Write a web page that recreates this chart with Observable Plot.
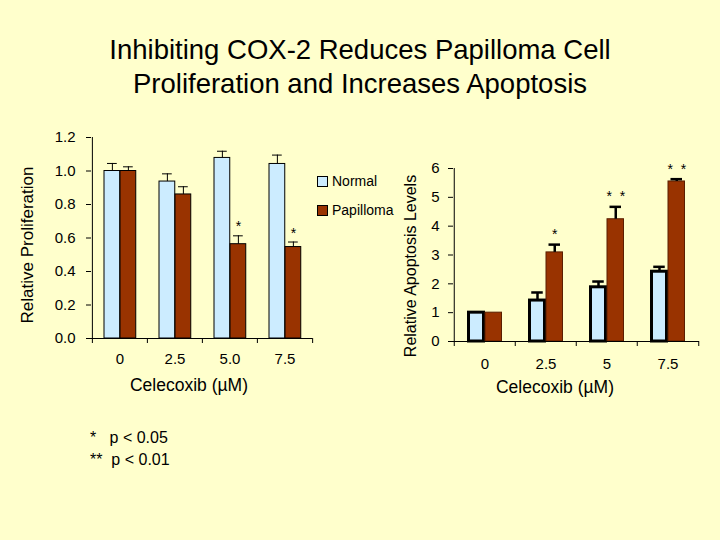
<!DOCTYPE html>
<html><head><meta charset="utf-8">
<script src="https://cdn.jsdelivr.net/npm/d3@7"></script>
<script src="https://cdn.jsdelivr.net/npm/@observablehq/plot@0.6"></script>
<style>
html,body{margin:0;padding:0;background:#FFFFCC;}
#page{position:relative;width:720px;height:540px;background:#FFFFCC;font-family:"Liberation Sans",Arial,sans-serif;color:#000;overflow:hidden}
.abs{position:absolute;white-space:pre}
.rot{transform:rotate(-90deg);text-align:center}
</style></head><body><div id="page"></div>
<script>
// ---- data ----
const titleLines = ["Inhibiting COX-2 Reduces Papilloma Cell", "Proliferation and Increases Apoptosis"];
const seriesNames = ["Normal", "Papilloma"];
const seriesColors = ["#CCECFF", "#993300"];

const propCats = ["0", "2.5", "5.0", "7.5"];
const propNormal = [1.0, 0.937, 1.078, 1.042];
const propNormalErr = [0.045, 0.046, 0.04, 0.053];
const propPap = [1.0, 0.86, 0.563, 0.546];
const propPapErr = [0.025, 0.046, 0.05, 0.03];
const propSig = ["", "", "*", "*"];
const propTicks = [0, 0.2, 0.4, 0.6, 0.8, 1.0, 1.2];

const apoCats = ["0", "2.5", "5", "7.5"];
const apoNormal = [1.0, 1.42, 1.88, 2.42];
const apoNormalErr = [0, 0.28, 0.2, 0.17];
const apoPap = [1.0, 3.09, 4.24, 5.55];
const apoPapErr = [0, 0.27, 0.43, 0.08];
const apoSig = ["", "*", "*  *", "*  *"];
const apoTicks = [0, 1, 2, 3, 4, 5, 6];

const xTitle = "Celecoxib (\u00B5M)";
const propYTitle = "Relative Proliferation";
const apoYTitle = "Relative Apoptosis Levels";
const footnotes = ["*   p < 0.05", "**  p < 0.01"];

// ---- helpers ----
const page = document.getElementById("page");
function addText(txt, css, cls = "abs") {
  const d = document.createElement("div");
  d.className = cls;
  d.textContent = txt;
  Object.assign(d.style, css);
  page.appendChild(d);
  return d;
}

function groupedChart(o) {
  const bw = (o.width - o.ml - o.mr) / o.cats.length;
  const nrm = o.cats.map((c, i) => ({cat: c, v: o.normal[i], e: o.normalErr[i]}));
  const pap = o.cats.map((c, i) => ({cat: c, v: o.pap[i], e: o.papErr[i], s: o.sig[i]}));
  const n0 = o.gap, n1 = n0 + o.barW, p0 = n1 + o.midGap, p1 = p0 + o.barW2;
  const nc = (n0 + n1) / 2, pc = (p0 + p1) / 2;
  const last = o.cats[o.cats.length - 1];
  const yMax = o.ticks[o.ticks.length - 1];
  const errMarks = (data, c) => [
    Plot.ruleX(data.filter(d => d.e > 0), {x: "cat", y1: "v", y2: d => d.v + d.e, dx: c - bw / 2, stroke: "#000", strokeWidth: o.errW}),
    Plot.tickY(data.filter(d => d.e > 0), {x: "cat", y: d => d.v + d.e, insetLeft: c - o.capW / 2, insetRight: bw - c - o.capW / 2, stroke: "#000", strokeWidth: o.errW})
  ];
  return Plot.plot({
    width: o.width, height: o.height,
    marginLeft: o.ml, marginRight: o.mr, marginTop: o.mt, marginBottom: o.mb,
    style: {background: "transparent", fontFamily: '"Liberation Sans", Arial, sans-serif', fontSize: "15px", color: "#000", overflow: "visible"},
    x: {type: "band", domain: o.cats, padding: 0, axis: null},
    y: {domain: [0, yMax], axis: null},
    marks: [
      Plot.barY(nrm, {x: "cat", y: "v", fill: seriesColors[0], stroke: "#000", strokeWidth: o.normalSW, insetLeft: n0, insetRight: bw - n1}),
      Plot.barY(pap, {x: "cat", y: "v", fill: seriesColors[1], stroke: o.papStroke, strokeWidth: 1, insetLeft: p0, insetRight: bw - p1}),
      ...errMarks(nrm, nc),
      ...errMarks(pap, pc),
      Plot.text(pap.filter(d => d.s), {x: "cat", y: d => d.v + d.e, text: "s", dx: pc - bw / 2, dy: o.sigDy, fontSize: o.sigSize}),
      Plot.ruleY([0], {stroke: "#000"}),
      Plot.ruleX([o.cats[0]], {x: d => d, y1: 0, y2: yMax, dx: -bw / 2, stroke: "#000"}),
      Plot.axisY({ticks: o.ticks, tickFormat: o.tickFmt, tickSize: 5, tickPadding: o.tickPad, fontSize: 15, label: null}),
      Plot.axisX({tickSize: 0, tickPadding: o.xPad, fontSize: 15, label: null}),
      Plot.axisX({tickSize: 5, tickFormat: () => "", dx: -bw / 2, label: null}),
      Plot.axisX({ticks: [last], tickSize: 5, tickFormat: () => "", dx: bw / 2, label: null})
    ]
  });
}

// ---- title ----
addText(titleLines.join("\n"), {left: "0px", top: "33px", width: "720px", textAlign: "center", fontSize: "27.5px", lineHeight: "34px"});

// ---- left chart ----
const left = groupedChart({
  cats: propCats, normal: propNormal, normalErr: propNormalErr, pap: propPap, papErr: propPapErr, sig: propSig,
  ticks: propTicks, tickFmt: d3.format(".1f"),
  width: 400, height: 260, ml: 91, mr: 88, mt: 17, mb: 42,
  gap: 12, barW: 16, midGap: 0, barW2: 16, normalSW: 1, papStroke: "#000", errW: 1, capW: 10,
  sigDy: -9, sigSize: 14, tickPad: 11, xPad: 15
});
Object.assign(left.style, {position: "absolute", left: "0px", top: "120px"});
page.appendChild(left);

// ---- right chart ----
const right = groupedChart({
  cats: apoCats, normal: apoNormal, normalErr: apoNormalErr, pap: apoPap, papErr: apoPapErr, sig: apoSig,
  ticks: apoTicks, tickFmt: d3.format("d"),
  width: 320, height: 260, ml: 53, mr: 21, mt: 48, mb: 39,
  gap: 14.5, barW: 15.5, midGap: 1, barW2: 17, normalSW: 3, papStroke: "#5a1e00", errW: 2.5, capW: 12,
  sigDy: -10, sigSize: 14, tickPad: 9, xPad: 17
});
Object.assign(right.style, {position: "absolute", left: "400px", top: "120px"});
page.appendChild(right);

// ---- axis titles ----
addText(xTitle, {left: "89px", top: "375px", width: "200px", textAlign: "center", fontSize: "17.5px", lineHeight: "20px"});
addText(xTitle, {left: "455px", top: "377px", width: "200px", textAlign: "center", fontSize: "17.5px", lineHeight: "20px"});
addText(propYTitle, {left: (28 - 110) + "px", top: (245 - 10) + "px", width: "220px", height: "20px", fontSize: "17px", lineHeight: "20px"}, "abs rot");
addText(apoYTitle, {left: (411 - 130) + "px", top: (266 - 10) + "px", width: "260px", height: "20px", fontSize: "16px", lineHeight: "20px"}, "abs rot");

// ---- legend ----
seriesNames.forEach((name, i) => {
  const y = [176, 205][i];
  const sw = document.createElement("div");
  sw.className = "abs";
  Object.assign(sw.style, {left: "317px", top: y + "px", width: "9px", height: "9px", background: seriesColors[i], border: "1px solid #000"});
  page.appendChild(sw);
  addText(name, {left: "332px", top: (y - 4) + "px", fontSize: "14px", lineHeight: "18px"});
});

// ---- footnotes ----
footnotes.forEach((t, i) => addText(t, {left: "90px", top: (428 + i * 22) + "px", fontSize: "16px", lineHeight: "20px"}));
</script>
</body></html>
